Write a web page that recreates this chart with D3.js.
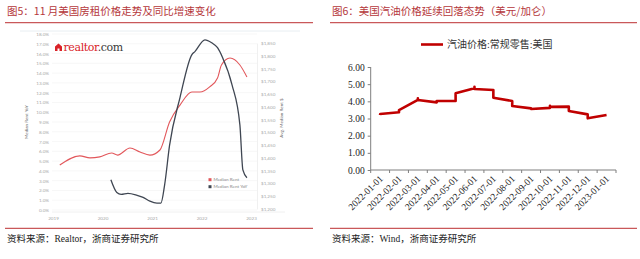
<!DOCTYPE html>
<html>
<head>
<meta charset="utf-8">
<script src="https://cdn.jsdelivr.net/npm/d3@7"></script>
<style>
  body { margin: 0; background: #fff; }
  svg { display: block; }
</style>
</head>
<body>
<svg id="chart" width="640" height="259"></svg>
<script>
// ---- figure 5 : realtor.com rent chart ----
const rentDates = ["2019-02-20", "2019-07-18", "2019-10-01", "2019-12-12", "2020-03-09", "2020-04-22",
  "2020-07-22", "2020-10-04", "2020-12-16", "2021-02-28", "2021-05-10", "2021-07-26", "2021-10-22",
  "2021-12-20", "2022-03-02", "2022-04-29", "2022-05-28", "2022-07-30", "2022-10-11", "2022-12-02"];
const rentValues = [1372, 1408, 1400, 1404, 1419, 1411, 1439, 1423, 1411, 1431, 1541, 1607, 1658,
  1658, 1678, 1713, 1764, 1791, 1764, 1717];

const yoyDates = ["2020-03-03", "2020-04-16", "2020-05-18", "2020-07-07", "2020-09-13", "2020-10-27",
  "2020-12-16", "2021-02-06", "2021-03-07", "2021-04-04", "2021-05-10", "2021-07-26", "2021-10-22",
  "2021-11-13", "2022-01-26", "2022-03-17", "2022-04-29", "2022-06-05", "2022-08-14", "2022-10-11",
  "2022-11-02", "2022-12-02"];
const yoyValues = [3.1, 1.8, 1.6, 1.7, 1.5, 1.3, 0.9, 0.7, 0.7, 2.6, 6.6, 11.5, 15.9, 16.2, 17.4,
  17.1, 16.6, 15.6, 12.8, 8.7, 4.1, 3.3];

const pctTicks = [0, 1, 2, 3, 4, 5, 6, 7, 8, 9, 10, 11, 12, 13, 14, 15, 16, 17, 18];
const rentTicks = [1200, 1250, 1300, 1350, 1400, 1450, 1500, 1550, 1600, 1650, 1700, 1750, 1800, 1850];
const yearTicks = ["2019", "2020", "2021", "2022", "2023"];
const fig5Legend = ["Median Rent", "Median Rent YoY"];

// ---- figure 6 : gasoline price (weekly values grouped by month) ----
const gasMonths = ["2022-01-01", "2022-02-01", "2022-03-01", "2022-04-01", "2022-05-01", "2022-06-01",
  "2022-07-01", "2022-08-01", "2022-09-01", "2022-10-01", "2022-11-01", "2022-12-01", "2023-01-01"];
const gasWeekly = [
  [3.20, 3.22, 3.24, 3.26],
  [3.36, 3.40, 3.45, 3.49],
  [4.08, 4.18, 4.12, 4.08],
  [3.94, 3.97, 4.00, 4.02],
  [4.02, 4.15, 4.30, 4.47],
  [4.76, 4.85, 4.80, 4.72],
  [4.66, 4.50, 4.35, 4.21],
  [4.02, 3.90, 3.80, 3.73],
  [3.59, 3.57, 3.55, 3.55],
  [3.62, 3.74, 3.72, 3.68],
  [3.69, 3.62, 3.52, 3.44],
  [3.24, 3.15, 3.06, 3.01],
  [3.20]
];
const gasTicks = [0, 1, 2, 3, 4, 5, 6];
const gasSeriesName = "汽油价格:常规零售:美国";

const svg = d3.select("#chart");
const cjk = "'Noto Sans CJK SC', 'Noto Sans', sans-serif";
const serif = "'Liberation Serif', 'Noto Sans CJK SC', serif";
const titleRed = "#b5373b";
const ruleRed = "#c9585a";

// titles, rules, sources
function frame(x0, x1, title, source) {
  svg.append("text").attr("x", x0 + 2).attr("y", 15)
    .style("font-family", cjk).style("font-size", "10.5px").attr("fill", titleRed)
    .text(title);
  svg.append("line").attr("x1", x0).attr("x2", x1).attr("y1", 22.7).attr("y2", 22.7)
    .attr("stroke", ruleRed).attr("stroke-width", 1.2);
  svg.append("line").attr("x1", x0).attr("x2", x1).attr("y1", 228.3).attr("y2", 228.3)
    .attr("stroke", ruleRed).attr("stroke-width", 1.2);
  svg.append("text").attr("x", x0 + 2).attr("y", 242)
    .style("font-family", serif).style("font-size", "9.5px").attr("fill", "#222")
    .text(source);
}
frame(5, 313, "图5：11 月美国房租价格走势及同比增速变化", "资料来源：Realtor，浙商证券研究所");
frame(330, 637, "图6：美国汽油价格延续回落态势（美元/加仑）", "资料来源：Wind，浙商证券研究所");

// ================= figure 5 =================
const g5 = svg.append("g");
const parse = d3.timeParse("%Y-%m-%d");
const x5 = d3.scaleTime().domain([new Date(2019, 0, 1), new Date(2023, 0, 1)]).range([53, 251]);
const yPct = d3.scaleLinear().domain([0, 18]).range([210, 34]);
const yRent = d3.scaleLinear().domain([1200, 1850]).range([209, 43]);
const small = "'Lato', 'Open Sans', sans-serif";

// faint border of the pasted image
g5.append("line").attr("x1", 20).attr("x2", 300).attr("y1", 31).attr("y2", 31)
  .attr("stroke", "#e8eef2").attr("stroke-width", 1);

// gridlines
g5.selectAll("line.grid").data(pctTicks).enter().append("line")
  .attr("class", "grid")
  .attr("x1", 52).attr("x2", 257)
  .attr("y1", d => yPct(d)).attr("y2", d => yPct(d))
  .attr("stroke", "#f1f1f1").attr("stroke-width", 0.6);

// left axis
const leftAxis = g5.append("g").attr("transform", "translate(52,0)")
  .call(d3.axisLeft(yPct).tickValues(pctTicks).tickSize(0).tickPadding(3).tickFormat(d => d.toFixed(1) + "%"));
leftAxis.select(".domain").remove();
leftAxis.selectAll("text").style("font-family", small).style("font-size", "4.6px").attr("fill", "#a8a8a8");

// right axis
const rightAxis = g5.append("g").attr("transform", "translate(257,0)")
  .call(d3.axisRight(yRent).tickValues(rentTicks).tickSize(0).tickPadding(4).tickFormat(d => "$" + d3.format(",")(d)));
rightAxis.select(".domain").attr("stroke", "#ececec").attr("stroke-width", 0.8);
rightAxis.selectAll("text").style("font-family", small).style("font-size", "4.6px").attr("fill", "#a8a8a8");

// baseline
g5.append("line").attr("x1", 52).attr("x2", 285).attr("y1", 212).attr("y2", 212)
  .attr("stroke", "#ececec").attr("stroke-width", 0.8);

// bottom axis
const bottomAxis = g5.append("g").attr("transform", "translate(0,214)")
  .call(d3.axisBottom(x5).tickValues(yearTicks.map(y => new Date(+y, 0, 1))).tickSize(0).tickPadding(3)
    .tickFormat(d3.timeFormat("%Y")));
bottomAxis.select(".domain").remove();
bottomAxis.selectAll("text").style("font-family", small).style("font-size", "4.6px").attr("fill", "#a8a8a8");

// axis titles
g5.append("text").attr("transform", "translate(28,122) rotate(-90)").attr("text-anchor", "middle")
  .style("font-family", small).style("font-size", "4.6px").attr("fill", "#666").text("Median Rent YoY");
g5.append("text").attr("transform", "translate(283,118) rotate(-90)").attr("text-anchor", "middle")
  .style("font-family", small).style("font-size", "4.6px").attr("fill", "#666").text("Avg. Median Rent $");

// logo
const logo = g5.append("g").attr("transform", "translate(55,51)");
logo.append("path").attr("d", "M0,0 L0,-4.5 L3.5,-7.5 L7,-4.5 L7,0 L4.5,0 L4.5,-2.5 L2.5,-2.5 L2.5,0 Z")
  .attr("fill", "#d92228");
const logoText = logo.append("text").attr("x", 8.5).attr("y", 0)
  .style("font-family", "'DejaVu Serif', 'Liberation Serif', serif").style("font-size", "11px")
  .style("letter-spacing", "-0.4px");
logoText.append("tspan").attr("fill", "#d92228").text("realtor");
logoText.append("tspan").attr("fill", "#3a3a3a").text(".com");

// lines
const rentPts = rentDates.map((d, i) => [x5(parse(d)), yRent(rentValues[i])]);
const yoyPts = yoyDates.map((d, i) => [x5(parse(d)), yPct(yoyValues[i])]);
const line5 = d3.line().curve(d3.curveMonotoneX);
g5.append("path").attr("d", line5(rentPts)).attr("fill", "none")
  .attr("stroke", "#e2575b").attr("stroke-width", 1.1);
g5.append("path").attr("d", line5(yoyPts)).attr("fill", "none")
  .attr("stroke", "#3f4652").attr("stroke-width", 1.3);

// legend
const legColors = ["#e2575b", "#3f4652"];
fig5Legend.forEach((name, i) => {
  const ly = 180 + i * 7;
  g5.append("rect").attr("x", 208.5).attr("y", ly - 1.8).attr("width", 3).attr("height", 3).attr("fill", legColors[i]);
  g5.append("text").attr("x", 213.5).attr("y", ly + 1.2)
    .style("font-family", small).style("font-size", "4.6px").attr("fill", "#888").text(name);
});

// ================= figure 6 =================
const g6 = svg.append("g");
const x6 = d3.scaleBand().domain(gasMonths).range([370.7, 616]).padding(0);
const y6 = d3.scaleLinear().domain([0, 6]).range([170, 67]);

const yAxis6 = g6.append("g").attr("transform", "translate(370.7,0)")
  .call(d3.axisLeft(y6).tickValues(gasTicks).tickSize(3).tickPadding(3).tickFormat(d3.format(".2f")));
yAxis6.select(".domain").attr("stroke", "#7f7f7f").attr("d", `M0,${y6(6)}V${y6(0)}`);
yAxis6.selectAll(".tick line").attr("stroke", "#7f7f7f");
yAxis6.selectAll("text").style("font-family", serif).style("font-size", "9.5px").attr("fill", "#222");

// x axis with ticks on category boundaries
const xAxis6 = g6.append("g").attr("transform", `translate(0,${y6(0)})`);
xAxis6.append("line").attr("x1", x6.range()[0]).attr("x2", x6.range()[1])
  .attr("stroke", "#7f7f7f");
const bounds = gasMonths.map(m => x6(m)).concat([x6.range()[1]]);
xAxis6.selectAll("line.tk").data(bounds).enter().append("line").attr("class", "tk")
  .attr("x1", d => d).attr("x2", d => d).attr("y1", 0).attr("y2", 3).attr("stroke", "#7f7f7f");
xAxis6.selectAll("text").data(gasMonths).enter().append("text")
  .attr("transform", d => `translate(${x6(d) + x6.bandwidth() / 2 + 1},7) rotate(-45)`)
  .attr("text-anchor", "end").attr("dy", "0.35em")
  .style("font-family", serif).style("font-size", "9.5px").attr("fill", "#222")
  .text(d => d);

// the line: each month's weekly values share the month's centre
const gasPts = [];
gasMonths.forEach((m, i) => {
  gasWeekly[i].forEach(v => gasPts.push([x6(m) + x6.bandwidth() / 2, y6(v)]));
});
g6.append("path").attr("d", d3.line()(gasPts)).attr("fill", "none")
  .attr("stroke", "#c00000").attr("stroke-width", 2.6).attr("stroke-linejoin", "round");

// legend
g6.append("line").attr("x1", 421).attr("x2", 443).attr("y1", 44.5).attr("y2", 44.5)
  .attr("stroke", "#c00000").attr("stroke-width", 2.6);
g6.append("text").attr("x", 447).attr("y", 48.3)
  .style("font-family", serif).style("font-size", "10px").attr("fill", "#333")
  .text(gasSeriesName);
</script>
</body>
</html>
